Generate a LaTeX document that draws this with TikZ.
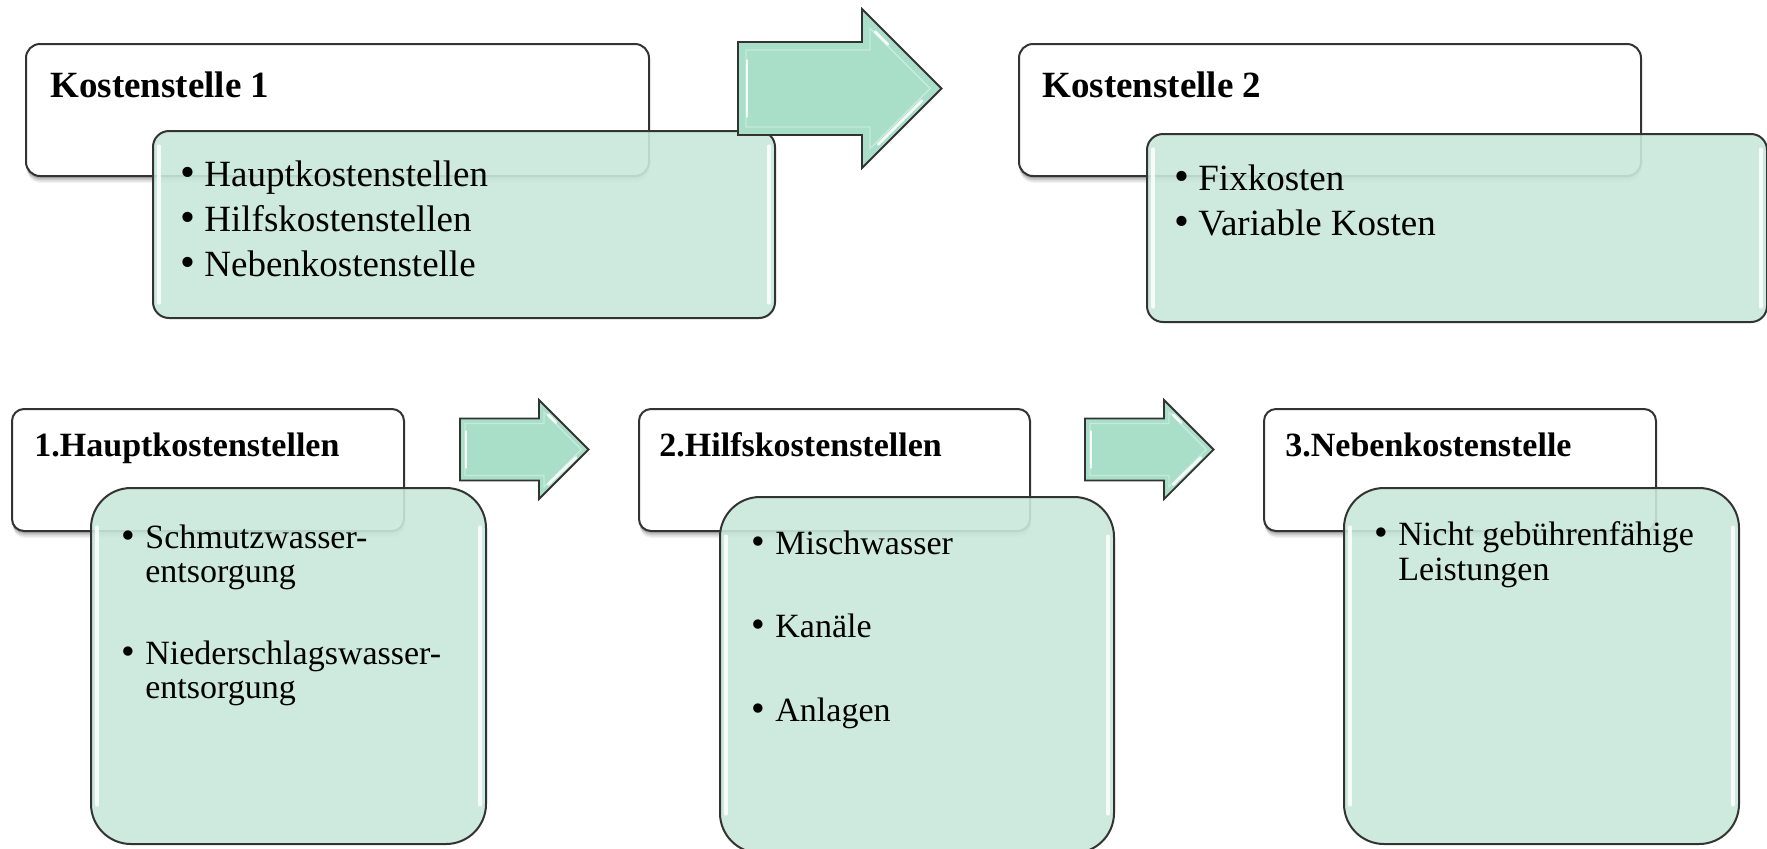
\documentclass[tikz,border=0pt]{standalone}
\usepackage{fontspec}
\setmainfont{Liberation Serif}
\usetikzlibrary{shadows}
\definecolor{boxline}{HTML}{333333}
\definecolor{greenfill}{HTML}{C9E8DB}
\definecolor{arrowfill}{HTML}{A9DFC8}
\newcommand\topfont{\fontsize{18.5}{22.5}\selectfont}
\newcommand\botfont{\fontsize{17}{17}\selectfont}
\newcommand\bul{\makebox[12pt][l]{\scalebox{1.15}{•}}}
\tikzset{
  whitebox/.style={draw=boxline, line width=1pt, fill=white, anchor=north west, inner sep=0pt,
    drop shadow={shadow xshift=0.3pt, shadow yshift=-3.5pt, opacity=0.05, fill=black},
    drop shadow={shadow xshift=0.3pt, shadow yshift=-2.8pt, opacity=0.07, fill=black},
    drop shadow={shadow xshift=0.2pt, shadow yshift=-2.0pt, opacity=0.10, fill=black},
    drop shadow={shadow xshift=0.1pt, shadow yshift=-1.2pt, opacity=0.14, fill=black}},
  greenbox/.style={draw=boxline, line width=1pt, fill=greenfill, fill opacity=0.9, anchor=north west, inner sep=0pt},
  hilite/.style={draw=white, draw opacity=0.85, line width=1.6pt, line cap=round},
  arrowbody/.style={draw=boxline, line width=0.9pt, fill=arrowfill, line join=miter},
  arrowbevel/.style={draw=white, draw opacity=0.35, line width=0.7pt},
  arrowglint/.style={draw=white, draw opacity=0.9, line width=1.4pt, line cap=round},
  titletop/.style={anchor=base west, inner sep=0pt, font=\topfont\bfseries},
  titlebot/.style={anchor=base west, inner sep=0pt, font=\botfont\bfseries},
  itemtop/.style={anchor=base west, inner sep=0pt, font=\topfont},
  itembot/.style={anchor=base west, inner sep=0pt, font=\botfont},
  bigarrowpic/.pic={
    \path[arrowbody] (0,-46.5) -- (124,-46.5) -- (124,-79.5) -- (203.5,0) -- (124,79.5) -- (124,46.5) -- (0,46.5) -- cycle;
    \path[arrowbevel] (8,-38.5) -- (132,-38.5) -- (132,-60.2) -- (192.2,0) -- (132,60.2) -- (132,38.5) -- (8,38.5) -- cycle;
    \path[arrowglint] (9,-28) -- (9,28);
    \path[arrowglint] (137,-57) -- (150,-44);
    \path[arrowglint] (184,12) -- (140,56);
  },
  smallarrowpic/.pic={
    \path[arrowbody] (0,-31) -- (79,-31) -- (79,-49.5) -- (128.5,0) -- (79,49.5) -- (79,31) -- (0,31) -- cycle;
    \path[arrowbevel] (5,-26) -- (84,-26) -- (84,-37.4) -- (121.4,0) -- (84,37.4) -- (84,26) -- (5,26) -- cycle;
    \path[arrowglint] (6,-18) -- (6,18);
    \path[arrowglint] (88,-35) -- (96,-27);
    \path[arrowglint] (116,8) -- (88,35);
  }
}
\newcommand\glints[2]{%
  \draw[hilite] ([xshift=3.5pt,yshift=-#2]#1.north west) -- ([xshift=3.5pt,yshift=#2]#1.south west);
  \draw[hilite] ([xshift=-3.5pt,yshift=-#2]#1.north east) -- ([xshift=-3.5pt,yshift=#2]#1.south east);
}
\begin{document}
\begin{tikzpicture}[x=0.5pt,y=-0.5pt]
\clip (0,0) rectangle (1767,848);
\fill[white] (0,0) rectangle (1767,848);

% ---------- top row ----------
\node[whitebox, rounded corners=7pt, minimum width=311.5pt, minimum height=66pt] (w1) at (25,43) {};
\node[titletop] (t1) at (50,97) {Kostenstelle 1};
\node[greenbox, rounded corners=8pt, minimum width=311pt, minimum height=93.5pt] (g1) at (152,130) {};
\glints{g1}{8pt}
\node[itemtop] (i11) at (180,186) {\bul Hauptkostenstellen};
\node[itemtop] (i12) at (180,231) {\bul Hilfskostenstellen};
\node[itemtop] (i13) at (180,276) {\bul Nebenkostenstelle};

\pic at (738,88.5) {bigarrowpic};

\node[whitebox, rounded corners=7pt, minimum width=311pt, minimum height=66pt] (w2) at (1018,43) {};
\node[titletop] (t2) at (1042,97) {Kostenstelle 2};
\node[greenbox, rounded corners=8pt, minimum width=310pt, minimum height=94pt] (g2) at (1146,133) {};
\glints{g2}{8pt}
\node[itemtop] (i21) at (1174,190) {\bul Fixkosten};
\node[itemtop] (i22) at (1174,235) {\bul Variable Kosten};

% ---------- bottom row ----------
\node[whitebox, rounded corners=6pt, minimum width=196pt, minimum height=61pt] (w3) at (11,408) {};
\node[titlebot] (t3) at (34,456) {1.Hauptkostenstellen};
\node[greenbox, rounded corners=20pt, minimum width=197.5pt, minimum height=178pt] (g3) at (90,487) {};
\glints{g3}{20pt}
\node[itembot] (i31) at (121,548) {\bul Schmutzwasser-};
\node[itembot] (i32) at (145,582) {entsorgung};
\node[itembot] (i33) at (121,664) {\bul Niederschlagswasser-};
\node[itembot] (i34) at (145,698) {entsorgung};

\pic at (460,449.5) {smallarrowpic};

\node[whitebox, rounded corners=6pt, minimum width=195.5pt, minimum height=61pt] (w4) at (638,408) {};
\node[titlebot] (t4) at (659,456) {2.Hilfskostenstellen};
\node[greenbox, rounded corners=20pt, minimum width=197pt, minimum height=178pt] (g4) at (719,496) {};
\glints{g4}{20pt}
\node[itembot] (i41) at (751,554) {\bul Mischwasser};
\node[itembot] (i42) at (751,637) {\bul Kanäle};
\node[itembot] (i43) at (751,721) {\bul Anlagen};

\pic at (1085,449.5) {smallarrowpic};

\node[whitebox, rounded corners=6pt, minimum width=196pt, minimum height=61pt] (w5) at (1263,408) {};
\node[titlebot] (t5) at (1285,456) {3.Nebenkostenstelle};
\node[greenbox, rounded corners=20pt, minimum width=197.5pt, minimum height=178pt] (g5) at (1343,487) {};
\glints{g5}{20pt}
\node[itembot] (i51) at (1374,545) {\bul Nicht gebührenfähige};
\node[itembot] (i52) at (1398,580) {Leistungen};
\end{tikzpicture}
\end{document}
